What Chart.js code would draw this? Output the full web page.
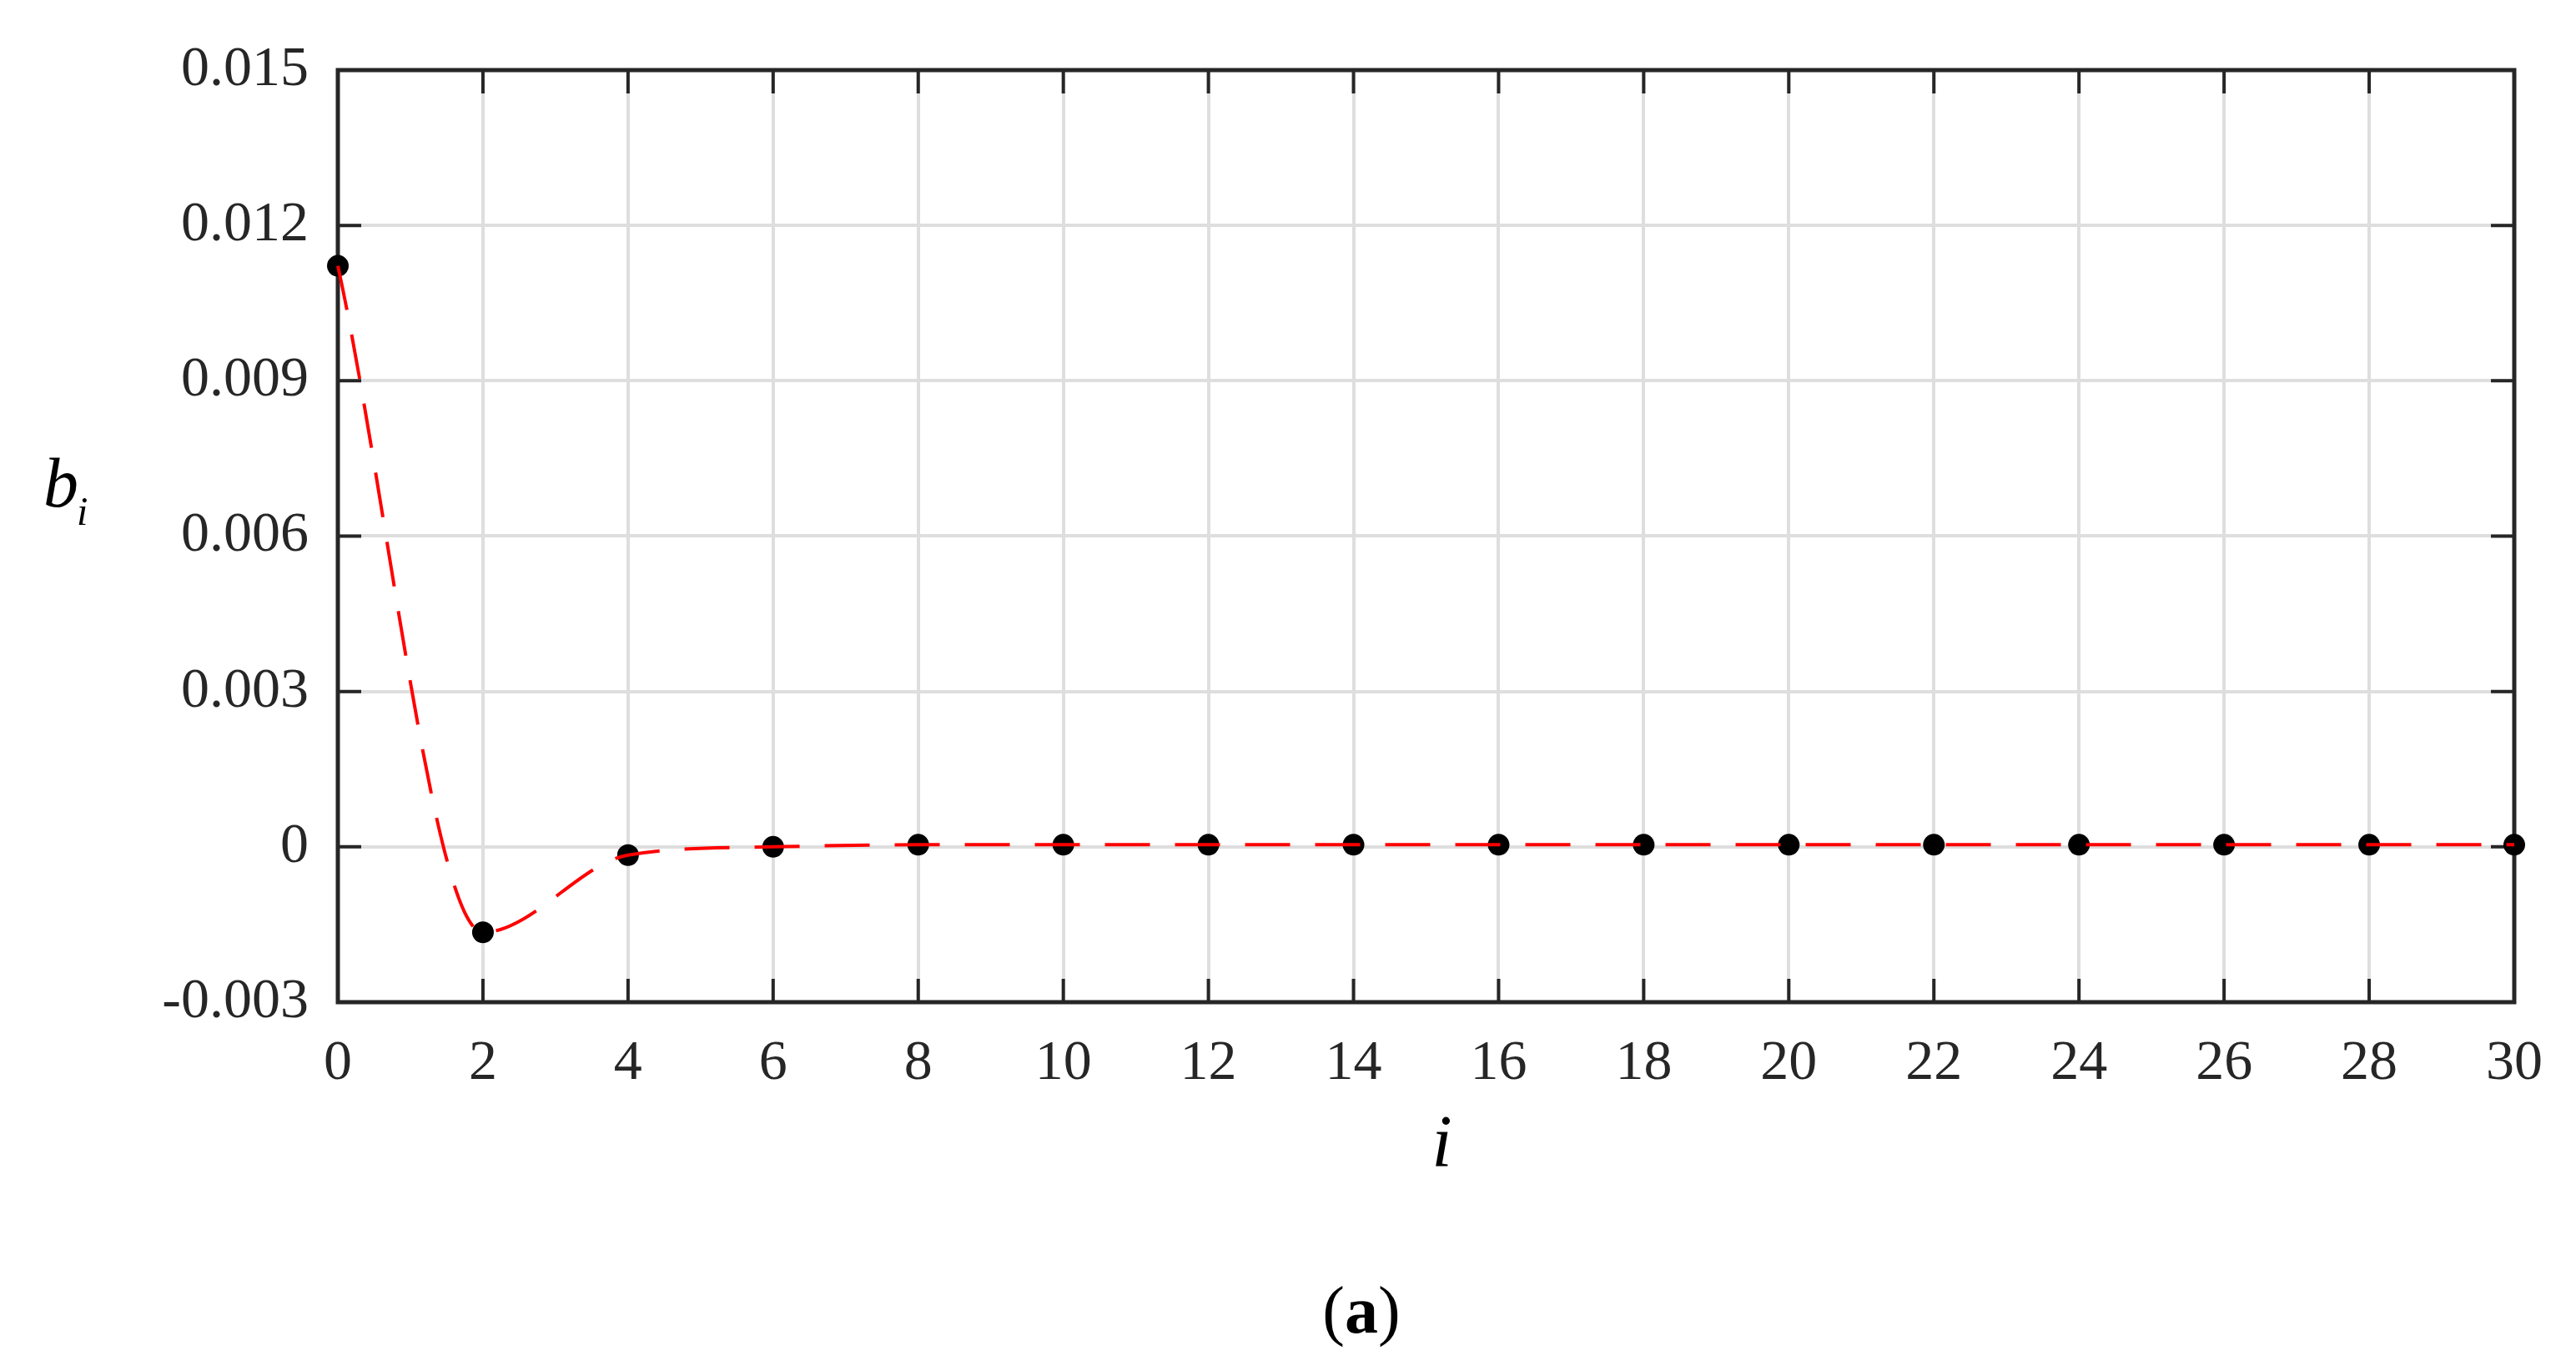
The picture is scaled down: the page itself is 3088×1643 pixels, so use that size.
<!DOCTYPE html>
<html>
<head>
<meta charset="utf-8">
<title>b_i coefficients</title>
<script src="https://cdn.jsdelivr.net/npm/chart.js@4/dist/chart.umd.min.js"></script>
<style>
  html, body { margin: 0; padding: 0; background: #ffffff; }
  #wrap { position: relative; width: 3088px; height: 1643px; }
</style>
</head>
<body>
<div id="wrap"><canvas id="coefChart"></canvas></div>
<script>
/**
 * Coefficients b_i against index i (panel a).
 */

// data
const iValues = [0, 2, 4, 6, 8, 10, 12, 14, 16, 18, 20, 22, 24, 26, 28, 30];
const bValues = [0.01122, -0.00165, -0.00016, 0.0, 0.00004, 0.00004, 0.00004, 0.00004,
  0.00004, 0.00004, 0.00004, 0.00004, 0.00004, 0.00004, 0.00004, 0.00004];

// tick values and labels
const xTickValues = [0, 2, 4, 6, 8, 10, 12, 14, 16, 18, 20, 22, 24, 26, 28, 30];
const xTickLabels = ['0', '2', '4', '6', '8', '10', '12', '14', '16', '18', '20', '22', '24', '26', '28', '30'];
const yTickValues = [-0.003, 0, 0.003, 0.006, 0.009, 0.012, 0.015];
const yTickLabels = ['-0.003', '0', '0.003', '0.006', '0.009', '0.012', '0.015'];

const SERIF = '"Liberation Serif", "Times New Roman", serif';
const AXIS_COLOR = '#262626';
const TICK_LEN = 28;

const points = iValues.map((x, k) => ({ x: x, y: bValues[k] }));

/**
 * Draws the MATLAB-like box with inward ticks on all four sides.
 */
const boxPlugin = {
  id: 'boxPlugin',
  beforeDatasetsDraw(chart) {
    const { ctx, chartArea: a, scales } = chart;
    ctx.save();
    ctx.strokeStyle = AXIS_COLOR;
    ctx.lineWidth = 4;
    ctx.beginPath();
    xTickValues.forEach((v) => {
      const px = scales.x.getPixelForValue(v);
      ctx.moveTo(px, a.bottom);
      ctx.lineTo(px, a.bottom - TICK_LEN);
      ctx.moveTo(px, a.top);
      ctx.lineTo(px, a.top + TICK_LEN);
    });
    yTickValues.forEach((v) => {
      const py = scales.y.getPixelForValue(v);
      ctx.moveTo(a.left, py);
      ctx.lineTo(a.left + TICK_LEN, py);
      ctx.moveTo(a.right, py);
      ctx.lineTo(a.right - TICK_LEN, py);
    });
    ctx.stroke();
    ctx.lineWidth = 5;
    ctx.strokeRect(a.left, a.top, a.right - a.left, a.bottom - a.top);
    ctx.restore();
  },
  afterDraw(chart) {
    const { ctx, chartArea: a } = chart;
    ctx.save();
    ctx.fillStyle = '#000000';
    ctx.textBaseline = 'alphabetic';

    // y title: b with subscript i, horizontal
    ctx.textAlign = 'left';
    ctx.font = 'italic 84px ' + SERIF;
    ctx.fillText('b', 52, 607);
    ctx.font = 'italic 48px ' + SERIF;
    ctx.fillText('i', 92, 629);

    // x title
    ctx.textAlign = 'center';
    ctx.font = 'italic 88px ' + SERIF;
    ctx.fillText('i', (a.left + a.right) / 2 + 19, 1397);

    // panel caption "(a)" with bold letter
    const parts = [['(', '400 '], ['a', 'bold '], [')', '400 ']];
    let total = 0;
    parts.forEach((p) => {
      ctx.font = p[1] + '80px ' + SERIF;
      total += ctx.measureText(p[0]).width;
    });
    let cx = 1632 - total / 2;
    ctx.textAlign = 'left';
    parts.forEach((p) => {
      ctx.font = p[1] + '80px ' + SERIF;
      ctx.fillText(p[0], cx, 1597);
      cx += ctx.measureText(p[0]).width;
    });
    ctx.restore();
  }
};

const ctx = document.getElementById('coefChart').getContext('2d');
new Chart(ctx, {
  type: 'line',
  data: {
    datasets: [
      {
        label: 'spline',
        data: points,
        borderColor: '#ff0000',
        borderWidth: 4,
        borderDash: [54, 30],
        borderCapStyle: 'butt',
        cubicInterpolationMode: 'monotone',
        pointRadius: 0,
        fill: false,
        clip: false
      },
      {
        label: 'b_i',
        data: points,
        showLine: false,
        pointRadius: 13,
        pointBackgroundColor: '#000000',
        pointBorderWidth: 0,
        clip: false
      }
    ]
  },
  options: {
    responsive: true,
    maintainAspectRatio: false,
    animation: false,
    layout: { padding: { top: 84, right: 74, left: 0, bottom: 0 } },
    plugins: { legend: { display: false }, tooltip: { enabled: false } },
    scales: {
      x: {
        type: 'linear',
        min: 0,
        max: 30,
        afterFit: (s) => { s.height = 442; },
        afterBuildTicks: (s) => { s.ticks = xTickValues.map((v) => ({ value: v })); },
        grid: { color: '#dedede', lineWidth: 4, drawTicks: false },
        border: { display: false },
        ticks: {
          autoSkip: false,
          maxRotation: 0,
          padding: 33,
          color: AXIS_COLOR,
          font: { family: SERIF, size: 68 },
          callback: (v, idx) => xTickLabels[idx]
        }
      },
      y: {
        type: 'linear',
        min: -0.003,
        max: 0.015,
        afterFit: (s) => { s.width = 405; },
        afterBuildTicks: (s) => { s.ticks = yTickValues.map((v) => ({ value: v })); },
        grid: { color: '#dedede', lineWidth: 4, drawTicks: false },
        border: { display: false },
        ticks: {
          autoSkip: false,
          padding: 35,
          color: AXIS_COLOR,
          font: { family: SERIF, size: 68 },
          callback: (v, idx) => yTickLabels[idx]
        }
      }
    }
  },
  plugins: [boxPlugin]
});
</script>
</body>
</html>
